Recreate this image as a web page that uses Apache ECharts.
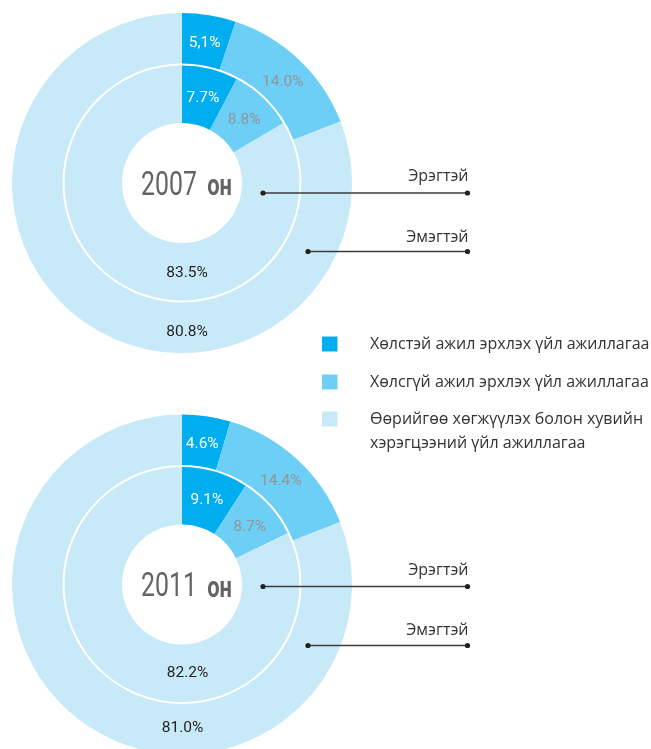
<!DOCTYPE html>
<html><head><meta charset="utf-8">
<script src="https://cdn.jsdelivr.net/npm/echarts@6/dist/echarts.min.js"></script>
<style>html,body{margin:0;padding:0;background:#fff}#c{width:651px;height:749px}</style>
</head><body><div id="c"></div>
<script>
// ---- data ----
const categories = [
  'Хөлстэй ажил эрхлэх үйл ажиллагаа',
  'Хөлсгүй ажил эрхлэх үйл ажиллагаа',
  'Өөрийгөө хөгжүүлэх болон хувийн хэрэгцээний үйл ажиллагаа'
];
const legendLabels = [
  'Хөлстэй ажил эрхлэх үйл ажиллагаа',
  'Хөлсгүй ажил эрхлэх үйл ажиллагаа',
  'Өөрийгөө хөгжүүлэх болон хувийн\nхэрэгцээний үйл ажиллагаа'
];
const years = ['2007', '2011'];
const yearSuffix = 'он';
const ringNames = ['Эрэгтэй', 'Эмэгтэй'];
const male2007 = [7.7, 8.8, 83.5];
const female2007 = [5.1, 14.0, 80.8];
const male2011 = [9.1, 8.7, 82.2];
const female2011 = [4.6, 14.4, 81.0];
const female2007Labels = ['5,1%', '14.0%', '80.8%'];

// ---- styles / layout ----
const colors = ['#00aeef', '#6dcff6', '#c7e9f8'];
const labelColors = ['#ffffff', '#939598', '#231f20'];
const NUMFONT = 'Roboto,"Noto Sans",sans-serif';
const TXTFONT = '"Open Sans","Noto Sans",sans-serif';

const charts = [
  {year: years[0], male: male2007, female: female2007, femaleLabels: female2007Labels,
   cx: 182, cy: 183, inLabDy: 90, outLabDy: 149, inLabX: 187, outLabX: 187,
   lines: [{y: 193, x0: 263, ty: 176}, {y: 251.5, x0: 308, ty: 237}]},
  {year: years[1], male: male2011, female: female2011, femaleLabels: null,
   cx: 182, cy: 584.5, inLabDy: 89, outLabDy: 144, inLabX: 187.5, outLabX: 182.5,
   lines: [{y: 586.5, x0: 263, ty: 570}, {y: 645.5, x0: 308, ty: 630}]}
];
const lineEndX = 467.5;

function fmt(v) { return v.toFixed(1) + '%'; }

const series = [];
const graphic = [];
charts.forEach((c, ci) => {
  const rings = [
    {vals: c.male, radius: [60, 117.5], labels: null, dy: c.inLabDy, lx: c.inLabX, nudge: [-1, 4]},
    {vals: c.female, radius: [119.5, 170], labels: c.femaleLabels, dy: c.outLabDy, lx: c.outLabX, nudge: [-1, 6]}
  ];
  rings.forEach((r, ri) => {
    series.push({
      type: 'pie',
      name: years[ci] + ' ' + ringNames[ri],
      center: [c.cx, c.cy],
      radius: r.radius,
      startAngle: 90,
      clockwise: true,
      silent: true,
      avoidLabelOverlap: false,
      data: r.vals.map((v, i) => ({
        name: categories[i],
        value: v,
        itemStyle: {color: colors[i]},
        label: {color: labelColors[i]}
      })),
      label: {
        show: true,
        position: 'inside',
        fontFamily: NUMFONT,
        fontSize: 15.5,
        formatter: p => r.labels ? r.labels[p.dataIndex] : fmt(p.value)
      },
      labelLine: {show: false},
      labelLayout: p => p.dataIndex === 2
        ? {x: r.lx, y: c.cy + r.dy, align: 'center', verticalAlign: 'middle'}
        : {dx: r.nudge[0], dy: r.nudge[1]}
    });
  });
  // center year text (condensed look)
  graphic.push({
    type: 'text', x: c.cx + 4.5, y: c.cy + 3, z: 100, silent: true,
    scaleX: 0.73, scaleY: 1,
    style: {
      text: '{a|' + c.year + '}{b|' + yearSuffix + '}',
      align: 'center', verticalAlign: 'middle',
      rich: {
        a: {fontFamily: NUMFONT, fontSize: 34, fill: '#636466', color: '#636466'},
        b: {fontFamily: NUMFONT, fontSize: 30, fontWeight: 'bold', fill: '#636466', color: '#636466', padding: [3, 0, 0, 14]}
      }
    }
  });
  // ring annotations
  c.lines.forEach((ln, li) => {
    graphic.push({type: 'line', z: 100, silent: true, shape: {x1: ln.x0, y1: ln.y, x2: lineEndX, y2: ln.y},
      style: {stroke: '#3c3c3c', lineWidth: 1.5}});
    graphic.push({type: 'circle', z: 101, silent: true, shape: {cx: ln.x0, cy: ln.y, r: 2.6}, style: {fill: '#231f20'}});
    graphic.push({type: 'circle', z: 101, silent: true, shape: {cx: lineEndX, cy: ln.y, r: 2.6}, style: {fill: '#231f20'}});
    graphic.push({type: 'text', z: 100, silent: true, x: lineEndX + 1, y: ln.ty,
      style: {text: ringNames[li], align: 'right', verticalAlign: 'middle',
        fontFamily: TXTFONT, fontSize: 16, fill: '#333333'}});
  });
});

// legend
const legendY = [344, 382, 419];
legendLabels.forEach((t, i) => {
  graphic.push({type: 'rect', z: 100, silent: true, shape: {x: 322, y: legendY[i] - 7.5, width: 15.5, height: 15},
    style: {fill: colors[i]}});
  graphic.push({type: 'text', z: 100, silent: true, x: 370, y: legendY[i] - 12,
    style: {text: t, align: 'left', verticalAlign: 'top', lineHeight: 24,
      fontFamily: TXTFONT, fontSize: 16, fill: '#333333'}});
});

const chart = echarts.init(document.getElementById('c'), null, {renderer: 'canvas'});
chart.setOption({
  animation: false,
  backgroundColor: '#ffffff',
  series: series,
  graphic: graphic
});
</script>
</body></html>
